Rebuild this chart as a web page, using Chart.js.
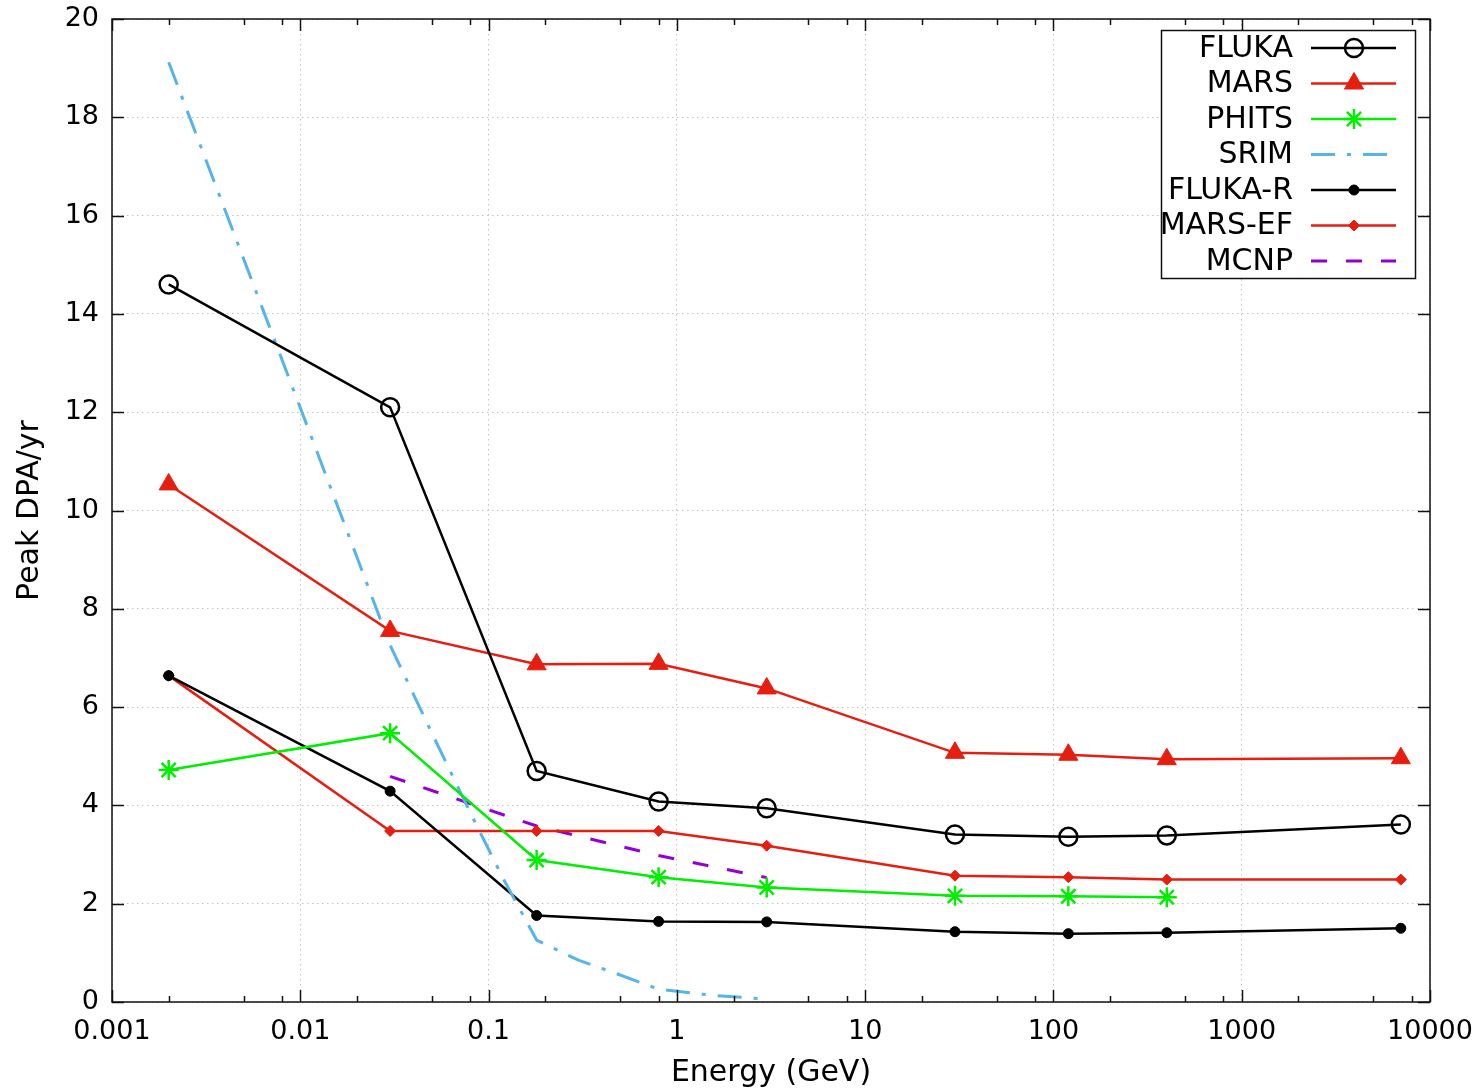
<!DOCTYPE html>
<html><head><meta charset="utf-8">
<script src="https://cdn.jsdelivr.net/npm/chart.js@4.4.0/dist/chart.umd.min.js"></script>
<style>html,body{margin:0;padding:0;background:#fff;} canvas{display:block;}</style>
</head><body>
<canvas id="c" width="1480" height="1089"></canvas>
<script>
// ---- data ----
const energies = [0.002, 0.03, 0.18, 0.8, 3, 30, 120, 400, 7000];
const flukaDPA = [14.6, 12.1, 4.70, 4.08, 3.94, 3.41, 3.36, 3.39, 3.61];
const marsDPA = [10.53, 7.55, 6.87, 6.88, 6.38, 5.07, 5.03, 4.94, 4.96];
const phitsEnergies = [0.002, 0.03, 0.18, 0.8, 3, 30, 120, 400];
const phitsDPA = [4.72, 5.47, 2.89, 2.54, 2.33, 2.16, 2.15, 2.13];
const srimEnergies = [0.002, 0.005, 0.01, 0.02, 0.03, 0.05, 0.08, 0.12, 0.18, 0.3, 0.5, 0.8, 1.0, 1.5, 3.0];
const srimDPA = [19.12, 15.12, 12.09, 9.05, 7.26, 5.47, 3.85, 2.50, 1.26, 0.85, 0.55, 0.26, 0.22, 0.14, 0.06];
const flukaRDPA = [6.64, 4.29, 1.76, 1.64, 1.63, 1.43, 1.39, 1.41, 1.50];
const marsEFDPA = [6.64, 3.48, 3.48, 3.48, 3.18, 2.57, 2.54, 2.49, 2.49];
const mcnpEnergies = [0.03, 0.18, 0.8, 3];
const mcnpDPA = [4.59, 3.58, 2.98, 2.53];
const seriesNames = ['FLUKA', 'MARS', 'PHITS', 'SRIM', 'FLUKA-R', 'MARS-EF', 'MCNP'];
const xTickValues = [0.001, 0.01, 0.1, 1, 10, 100, 1000, 10000];
const xTickLabels = ['0.001', '0.01', '0.1', '1', '10', '100', '1000', '10000'];
const xMinorFactors = [2, 5, 8];
const yMin = 0, yMax = 20, yStep = 2;
const xTitle = 'Energy (GeV)';
const yTitle = 'Peak DPA/yr';

const RED = '#e51e10', GREEN = '#00ee00', BLUE = '#56b4e9', PURPLE = '#9400d3', BLACK = '#000000';
const pts = (xs, ys) => xs.map((x, i) => ({x: x, y: ys[i]}));
const FONT = "'DejaVu Sans', sans-serif";

const datasets = [
  {label: seriesNames[0], data: pts(energies, flukaDPA), borderColor: BLACK, backgroundColor: 'rgba(0,0,0,0)',
   borderWidth: 2.5, pointStyle: 'circle', pointRadius: 9, pointBorderWidth: 2.5, pointBorderColor: BLACK, pointBackgroundColor: 'rgba(0,0,0,0)'},
  {label: seriesNames[1], data: pts(energies, marsDPA), borderColor: RED, backgroundColor: RED,
   borderWidth: 2.5, pointStyle: 'triangle', pointRadius: 11, pointBorderWidth: 1, pointBorderColor: RED, pointBackgroundColor: RED},
  {label: seriesNames[2], data: pts(phitsEnergies, phitsDPA), borderColor: GREEN, backgroundColor: GREEN,
   borderWidth: 2.5, pointStyle: 'star', pointRadius: 10, pointBorderWidth: 2.5, pointBorderColor: GREEN, pointBackgroundColor: GREEN},
  {label: seriesNames[3], data: pts(srimEnergies, srimDPA), borderColor: BLUE, backgroundColor: BLUE,
   borderWidth: 3, borderDash: [24, 12, 4, 12], pointRadius: 0, pointStyle: false},
  {label: seriesNames[4], data: pts(energies, flukaRDPA), borderColor: BLACK, backgroundColor: BLACK,
   borderWidth: 2.5, pointStyle: 'circle', pointRadius: 5, pointBorderWidth: 1, pointBorderColor: BLACK, pointBackgroundColor: BLACK},
  {label: seriesNames[5], data: pts(energies, marsEFDPA), borderColor: RED, backgroundColor: RED,
   borderWidth: 2.5, pointStyle: 'rectRot', pointRadius: 5.5, pointBorderWidth: 1, pointBorderColor: RED, pointBackgroundColor: RED},
  {label: seriesNames[6], data: pts(mcnpEnergies, mcnpDPA), borderColor: PURPLE, backgroundColor: PURPLE,
   borderWidth: 3, borderDash: [16, 19], pointRadius: 0, pointStyle: false}
];

// frame + inward ticks (gnuplot style)
const framePlugin = {
  id: 'frame',
  afterDatasetsDraw(chart) {
    const {ctx, chartArea: a, scales: {x, y}} = chart;
    ctx.save();
    ctx.strokeStyle = '#111';
    ctx.lineWidth = 1.5;
    ctx.beginPath();
    for (let v = yMin; v <= yMax; v += yStep) {
      const py = Math.round(y.getPixelForValue(v)) + 0.5;
      ctx.moveTo(a.left, py); ctx.lineTo(a.left + 12, py);
      ctx.moveTo(a.right, py); ctx.lineTo(a.right - 12, py);
    }
    xTickValues.forEach((v, i) => {
      const px = Math.round(x.getPixelForValue(v)) + 0.5;
      ctx.moveTo(px, a.bottom); ctx.lineTo(px, a.bottom - 12);
      ctx.moveTo(px, a.top); ctx.lineTo(px, a.top + 12);
      if (i < xTickValues.length - 1) {
        xMinorFactors.forEach(f => {
          const mx = Math.round(x.getPixelForValue(v * f)) + 0.5;
          ctx.moveTo(mx, a.bottom); ctx.lineTo(mx, a.bottom - 6);
          ctx.moveTo(mx, a.top); ctx.lineTo(mx, a.top + 6);
        });
      }
    });
    ctx.stroke();
    ctx.strokeRect(a.left, a.top, a.right - a.left, a.bottom - a.top);
    ctx.restore();
  },
  afterDraw(chart) {
    const ctx = chart.ctx;
    const box = {l: 1161, t: 30, r: 1415, b: 278};
    ctx.save();
    ctx.fillStyle = '#fff';
    ctx.fillRect(box.l, box.t, box.r - box.l, box.b - box.t);
    ctx.strokeStyle = '#111';
    ctx.lineWidth = 1.5;
    ctx.strokeRect(box.l + 0.5, box.t + 0.5, box.r - box.l, box.b - box.t);
    ctx.font = '30px ' + FONT;
    ctx.textAlign = 'right';
    ctx.textBaseline = 'middle';
    chart.data.datasets.forEach((ds, i) => {
      const yy = 48 + i * 35.5;
      ctx.fillStyle = '#000';
      ctx.fillText(ds.label, 1293, yy + 1);
      ctx.save();
      ctx.strokeStyle = ds.borderColor;
      ctx.lineWidth = ds.borderWidth;
      ctx.setLineDash(ds.borderDash || []);
      ctx.beginPath();
      ctx.moveTo(1311, yy); ctx.lineTo(1396, yy);
      ctx.stroke();
      ctx.setLineDash([]);
      if (ds.pointStyle) {
        ctx.strokeStyle = ds.pointBorderColor;
        ctx.fillStyle = ds.pointBackgroundColor;
        ctx.lineWidth = ds.pointBorderWidth;
        Chart.helpers.drawPoint(ctx, {pointStyle: ds.pointStyle, radius: ds.pointRadius, rotation: 0, borderWidth: ds.pointBorderWidth}, 1354, yy);
      }
      ctx.restore();
    });
    ctx.restore();
  }
};

new Chart(document.getElementById('c'), {
  type: 'line',
  data: {datasets: datasets},
  options: {
    responsive: false,
    animation: false,
    devicePixelRatio: 1,
    layout: {padding: {left: 0, right: 50, top: 19, bottom: 0}},
    plugins: {legend: {display: false}, tooltip: {enabled: false}},
    elements: {line: {tension: 0, fill: false}},
    scales: {
      x: {
        type: 'logarithmic', min: 0.001, max: 10000,
        afterBuildTicks: s => { s.ticks = xTickValues.map(v => ({value: v, major: true})); },
        afterFit: s => { s.height = 87; s.paddingLeft = 0; s.paddingRight = 0; },
        ticks: {
          autoSkip: false, maxRotation: 0, color: '#000', padding: 14,
          font: {family: FONT, size: 27},
          callback: (v) => { const i = xTickValues.findIndex(t => Math.abs(t - v) / t < 1e-6); return i >= 0 ? xTickLabels[i] : ''; }
        },
        grid: {color: '#c4c4c4', lineWidth: 1, drawTicks: false},
        border: {display: false, dash: [1.5, 3.5]},
        title: {display: true, text: xTitle, color: '#000', font: {family: FONT, size: 30}, padding: {top: 0, bottom: -2}}
      },
      y: {
        min: yMin, max: yMax,
        afterFit: s => { s.width = 112; s.paddingTop = 0; s.paddingBottom = 0; },
        ticks: {stepSize: yStep, color: '#000', padding: 13, font: {family: FONT, size: 27}},
        grid: {color: '#c4c4c4', lineWidth: 1, drawTicks: false},
        border: {display: false, dash: [1.5, 3.5]},
        title: {display: true, text: yTitle, color: '#000', font: {family: FONT, size: 30}, padding: {top: 12, bottom: 0}}
      }
    }
  },
  plugins: [framePlugin]
});
</script>
</body></html>
